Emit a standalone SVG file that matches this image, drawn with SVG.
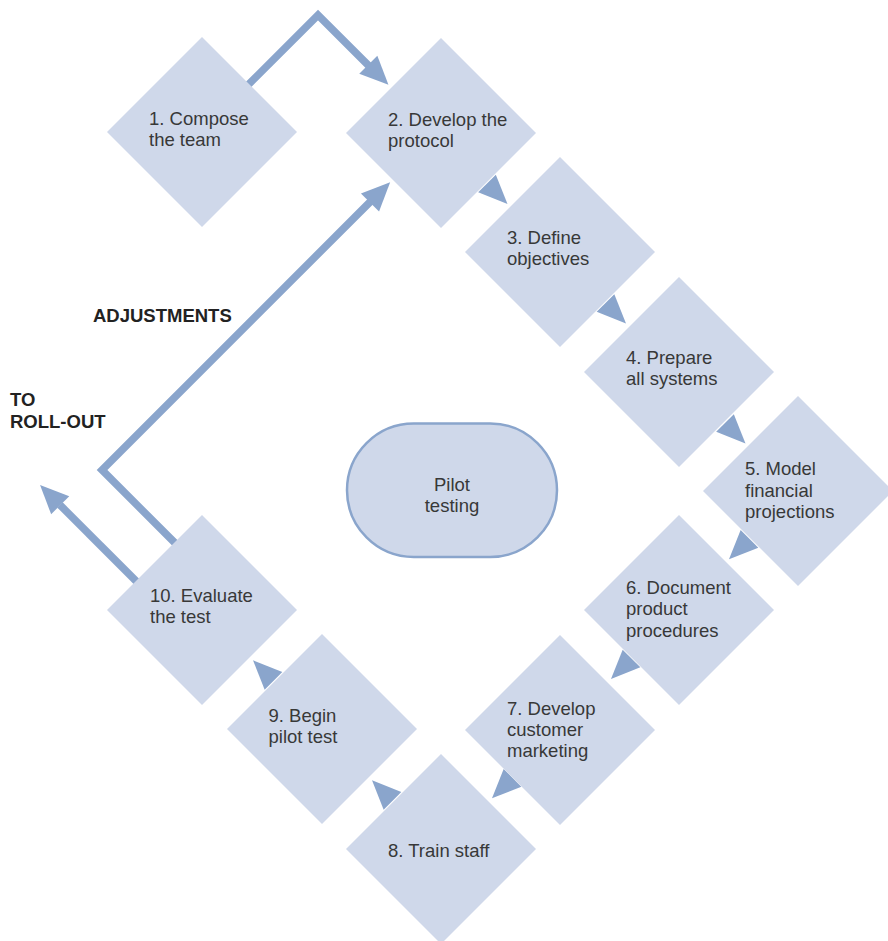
<svg xmlns="http://www.w3.org/2000/svg" xmlns:xlink="http://www.w3.org/1999/xlink" width="888" height="941" viewBox="0 0 888 941">
<style>
.dia{fill:#cfd8ea;stroke:none}
.pill{fill:#cfd8ea;stroke:#8aa5cc;stroke-width:2.5}
.lbl{font-family:"Liberation Sans",Arial,sans-serif;font-size:18.5px;fill:#383838}
.ctr{text-anchor:middle}
.bold{font-family:"Liberation Sans",Arial,sans-serif;font-size:18.5px;font-weight:bold;fill:#222}
.conn{fill:none;stroke:#8aa5cc;stroke-width:7.5;stroke-linejoin:miter;stroke-linecap:butt}
.ah{fill:#8aa5cc}
</style>
<defs>
<polygon id="ahs" points="0,-12.5 29,0 0,12.5"/>
<polygon id="ahb" points="0,-12.8 28.5,0 0,12.8"/>
</defs>
<rect width="888" height="941" fill="#ffffff"/>
<g id="connectors">
<path class="conn" d="M244,89 L318,15 L370,67"/>
<path class="conn" d="M178,546 L102,470 L372,200"/>
<path class="conn" d="M140,585 L60,505"/>
<use class="ah" xlink:href="#ahb" transform="translate(368.3,64.7) rotate(45)"/>
<use class="ah" xlink:href="#ahb" transform="translate(370,202.5) rotate(-45)"/>
<use class="ah" xlink:href="#ahb" transform="translate(60.2,505.2) rotate(225)"/>
<use class="ah" xlink:href="#ahs" transform="translate(487,183.5) rotate(45)"/>
<use class="ah" xlink:href="#ahs" transform="translate(605.5,303) rotate(45)"/>
<use class="ah" xlink:href="#ahs" transform="translate(725,423) rotate(45)"/>
<use class="ah" xlink:href="#ahs" transform="translate(749.5,538.8) rotate(135)"/>
<use class="ah" xlink:href="#ahs" transform="translate(631.5,658.5) rotate(135)"/>
<use class="ah" xlink:href="#ahs" transform="translate(512.5,777.8) rotate(135)"/>
<use class="ah" xlink:href="#ahs" transform="translate(392.5,800.8) rotate(225)"/>
<use class="ah" xlink:href="#ahs" transform="translate(273.5,680.8) rotate(225)"/>
</g>
<g id="n1"><polygon class="dia" points="202,37 297,132 202,227 107,132"/>
<text class="lbl" x="149" y="125">1. Compose</text><text class="lbl" x="149" y="146">the team</text></g>
<g id="n2"><polygon class="dia" points="441,38 536,133 441,228 346,133"/>
<text class="lbl" x="388" y="126">2. Develop the</text><text class="lbl" x="388" y="147">protocol</text></g>
<g id="n3"><polygon class="dia" points="560,157 655,252 560,347 465,252"/>
<text class="lbl" x="507" y="243.5">3. Define</text><text class="lbl" x="507" y="265">objectives</text></g>
<g id="n4"><polygon class="dia" points="679,277 774,372 679,467 584,372"/>
<text class="lbl" x="626" y="363.5">4. Prepare</text><text class="lbl" x="626" y="385">all systems</text></g>
<g id="n5"><polygon class="dia" points="798,396 893,491 798,586 703,491"/>
<text class="lbl" x="745" y="475">5. Model</text><text class="lbl" x="745" y="496.5">financial</text><text class="lbl" x="745" y="518">projections</text></g>
<g id="n6"><polygon class="dia" points="679,515 774,610 679,705 584,610"/>
<text class="lbl" x="626" y="593.5">6. Document</text><text class="lbl" x="626" y="615">product</text><text class="lbl" x="626" y="636.5">procedures</text></g>
<g id="n7"><polygon class="dia" points="560,635 655,730 560,825 465,730"/>
<text class="lbl" x="507" y="714.5">7. Develop</text><text class="lbl" x="507" y="735.5">customer</text><text class="lbl" x="507" y="757">marketing</text></g>
<g id="n8"><polygon class="dia" points="441,754 536,849 441,944 346,849"/>
<text class="lbl" x="388" y="856.5">8. Train staff</text></g>
<g id="n9"><polygon class="dia" points="322,634 417,729 322,824 227,729"/>
<text class="lbl" x="268.5" y="721.5">9. Begin</text><text class="lbl" x="268.5" y="743">pilot test</text></g>
<g id="n10"><polygon class="dia" points="202,515 297,610 202,705 107,610"/>
<text class="lbl" x="150" y="601.5">10. Evaluate</text><text class="lbl" x="150" y="623">the test</text></g>
<g id="center"><rect class="pill" x="347" y="423.5" width="210" height="133.5" rx="66.75" ry="66.75"/>
<text class="lbl ctr" x="452" y="491">Pilot</text><text class="lbl ctr" x="452" y="512">testing</text></g>
<g id="labels">
<text class="bold" x="93" y="321.5">ADJUSTMENTS</text>
<text class="bold" x="10" y="406">TO</text>
<text class="bold" x="10" y="427.5">ROLL-OUT</text>
</g>
</svg>
